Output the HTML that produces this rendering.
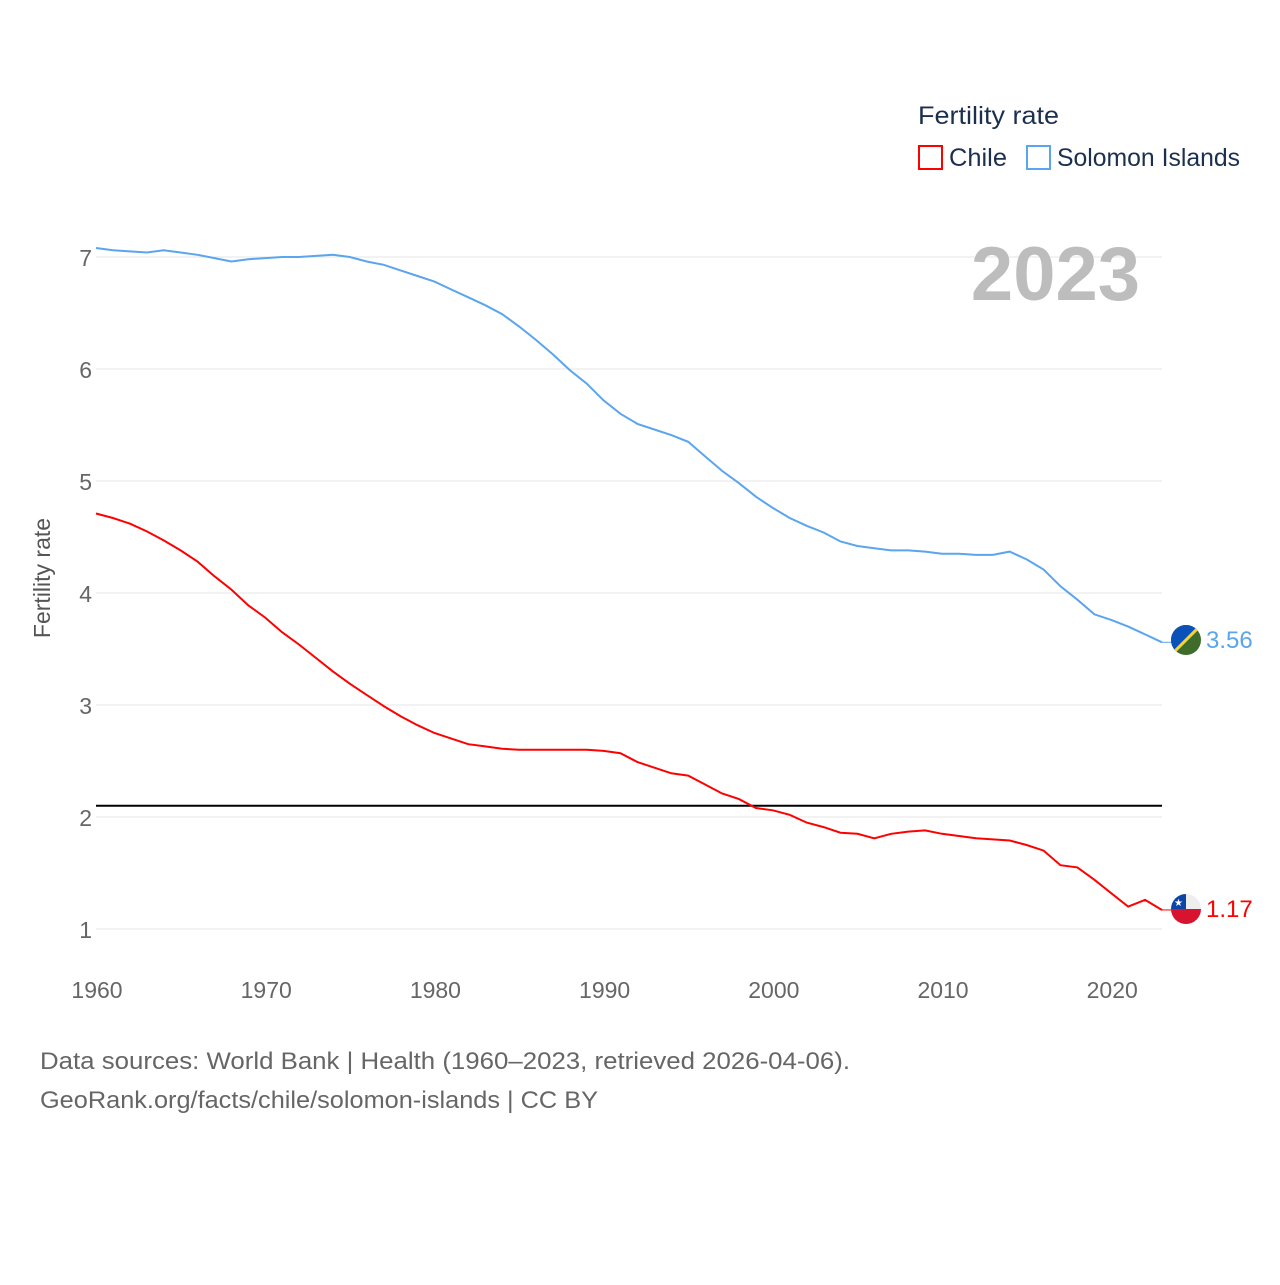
<!DOCTYPE html>
<html><head><meta charset="utf-8"><style>
body{margin:0;background:#fff;font-family:"Liberation Sans",sans-serif}
svg text{font-family:"Liberation Sans",sans-serif}
</style></head><body>
<svg id="chart" width="1280" height="1280" xmlns="http://www.w3.org/2000/svg">
<rect width="1280" height="1280" fill="#fff"/>
<g id="grid"></g>
<g id="xticks"></g>
<text x="50" y="578" transform="rotate(-90 50 578)" text-anchor="middle" font-size="23" fill="#555">Fertility rate</text>
<text x="1140" y="300" text-anchor="end" font-size="76" font-weight="bold" fill="#bdbdbd">2023</text>
<g>
<text x="918" y="124" font-size="25" fill="#1b2f4f" textLength="141" lengthAdjust="spacingAndGlyphs">Fertility rate</text>
<rect x="919" y="146" width="23" height="23" fill="none" stroke="#ff0000" stroke-width="2"/>
<text x="949" y="166" font-size="25" fill="#1b2f4f" textLength="58" lengthAdjust="spacingAndGlyphs">Chile</text>
<rect x="1027" y="146" width="23" height="23" fill="none" stroke="#5aa5ee" stroke-width="2"/>
<text x="1057" y="166" font-size="25" fill="#1b2f4f" textLength="183" lengthAdjust="spacingAndGlyphs">Solomon Islands</text>
</g>
<line id="repl" x1="96" x2="1162" stroke="#000" stroke-width="2"/>
<g id="series"></g>
<g>
<clipPath id="c1"><circle cx="1186" cy="640" r="15"/></clipPath>
<g clip-path="url(#c1)"><rect x="1171" y="625" width="30" height="30" fill="#3f6b2b"/><polygon points="1171,625 1201,625 1171,655" fill="#0a51b8"/><line x1="1171" y1="655" x2="1201" y2="625" stroke="#f5d33a" stroke-width="3"/></g>
</g>
<g>
<clipPath id="c2"><circle cx="1186" cy="909" r="15"/></clipPath>
<g clip-path="url(#c2)"><rect x="1171" y="894" width="30" height="15" fill="#eee"/><rect x="1171" y="909" width="30" height="15" fill="#d7132f"/><rect x="1171" y="894" width="15" height="15" fill="#0c45a8"/><text x="1178.5" y="906" font-size="10" text-anchor="middle" fill="#fff">★</text></g>
</g>
<text x="1206" y="648" font-size="24" fill="#5aa5ee">3.56</text>
<text x="1206" y="917" font-size="24" fill="#ff0000">1.17</text>
<text x="40" y="1069" font-size="24" fill="#666" textLength="810" lengthAdjust="spacingAndGlyphs">Data sources: World Bank | Health (1960–2023, retrieved 2026-04-06).</text>
<text x="40" y="1108" font-size="24" fill="#666" textLength="558" lengthAdjust="spacingAndGlyphs">GeoRank.org/facts/chile/solomon-islands | CC BY</text>
</svg>
<script>
const years=[];for(let y=1960;y<=2023;y++)years.push(y);
const yTicks=[1,2,3,4,5,6,7];
const xTicks=[1960,1970,1980,1990,2000,2010,2020];
const replacementRate=2.1;
const solomon=[7.08,7.06,7.05,7.04,7.06,7.04,7.02,6.99,6.96,6.98,6.99,7.00,7.00,7.01,7.02,7.00,6.96,6.93,6.88,6.83,6.78,6.71,6.64,6.57,6.49,6.38,6.26,6.13,5.99,5.87,5.72,5.60,5.51,5.46,5.41,5.35,5.22,5.09,4.98,4.86,4.76,4.67,4.60,4.54,4.46,4.42,4.40,4.38,4.38,4.37,4.35,4.35,4.34,4.34,4.37,4.30,4.21,4.06,3.94,3.81,3.76,3.70,3.63,3.56];
const chile=[4.71,4.67,4.62,4.55,4.47,4.38,4.28,4.15,4.03,3.89,3.78,3.65,3.54,3.42,3.30,3.19,3.09,2.99,2.90,2.82,2.75,2.70,2.65,2.63,2.61,2.60,2.60,2.60,2.60,2.60,2.59,2.57,2.49,2.44,2.39,2.37,2.29,2.21,2.16,2.08,2.06,2.02,1.95,1.91,1.86,1.85,1.81,1.85,1.87,1.88,1.85,1.83,1.81,1.80,1.79,1.75,1.70,1.57,1.55,1.44,1.32,1.20,1.26,1.17];
const NS="http://www.w3.org/2000/svg";
const xs=y=>96+(y-1960)*(1066/63);
const ys=v=>929-(v-1)*112;
const grid=document.getElementById('grid');
yTicks.forEach(t=>{
 const l=document.createElementNS(NS,'line');
 l.setAttribute('x1',96);l.setAttribute('x2',1162);l.setAttribute('y1',ys(t));l.setAttribute('y2',ys(t));
 l.setAttribute('stroke','#e6e6e6');
 
 
 grid.appendChild(l);
 const tx=document.createElementNS(NS,'text');
 tx.setAttribute('x',92);tx.setAttribute('y',ys(t)+9);tx.setAttribute('text-anchor','end');
 tx.setAttribute('font-size','23');tx.setAttribute('fill','#666');tx.textContent=t;
 
 
 grid.appendChild(tx);
});
const xt=document.getElementById('xticks');
xTicks.forEach(t=>{
 const tx=document.createElementNS(NS,'text');
 tx.setAttribute('x',xs(t)+1);tx.setAttribute('y',998);tx.setAttribute('text-anchor','middle');
 tx.setAttribute('font-size','23');tx.setAttribute('fill','#666');tx.textContent=t;
 
 
 xt.appendChild(tx);
});
const r=document.getElementById('repl');r.setAttribute('y1',ys(replacementRate));r.setAttribute('y2',ys(replacementRate));
function line(data,color,name){
 const p=document.createElementNS(NS,'path');
 p.setAttribute('d',data.map((v,i)=>(i?'L':'M')+xs(years[i]).toFixed(1)+','+ys(v).toFixed(1)).join(''));
 p.setAttribute('fill','none');p.setAttribute('stroke',color);p.setAttribute('stroke-width','2');
 
 
 document.getElementById('series').appendChild(p);
 const e=document.createElementNS(NS,'line');
 e.setAttribute('x1',xs(2023));e.setAttribute('x2',1172);e.setAttribute('y1',ys(data[data.length-1]));e.setAttribute('y2',ys(data[data.length-1]));
 e.setAttribute('stroke',color);e.setAttribute('stroke-width','1');
 
 
 document.getElementById('series').appendChild(e);
}
line(solomon,'#5aa5ee','solomon-islands-line');
line(chile,'#ff0000','chile-line');
</script>
</body></html>
